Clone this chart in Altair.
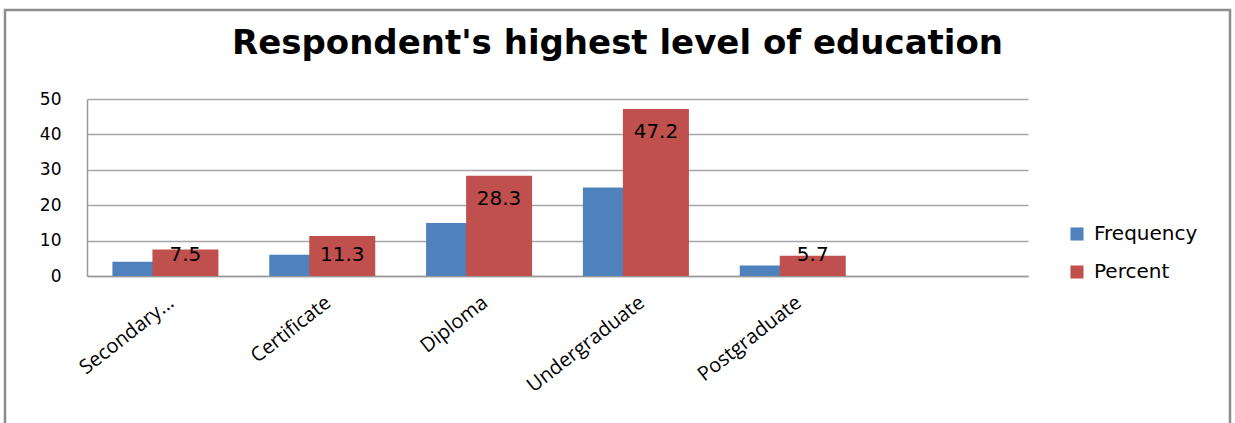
import altair as alt
import pandas as pd

categories = ["Secondary...", "Certificate", "Diploma", "Undergraduate", "Postgraduate"]
frequency = [4, 6, 15, 25, 3]
percent = [7.5, 11.3, 28.3, 47.2, 5.7]
series = ["Frequency", "Percent"]
colors = ["#4F81BD", "#C0504D"]
y_ticks = [0, 10, 20, 30, 40, 50]
x_domain = categories + [""]

rows = []
for c, f, p in zip(categories, frequency, percent):
    rows.append({"cat": c, "series": "Frequency", "value": f})
    rows.append({"cat": c, "series": "Percent", "value": p})
df = pd.DataFrame(rows)

W, H = 941, 177

x_scale = alt.Scale(domain=x_domain, paddingInner=0, paddingOuter=0)
x_axis = alt.Axis(title=None, labelAngle=-38, labelAlign="right", labelBaseline="top",
                  labelFont="Open Sans", labelFontSize=20, labelColor="#000000",
                  labelPadding=16, ticks=False, domainColor="#9a9a9a", domainWidth=1.5,
                  labelOverlap=False, labelLimit=300)
y_scale = alt.Scale(domain=[0, 50], nice=False, zero=True)
y_axis = alt.Axis(title=None, values=y_ticks, grid=True, gridColor="#a6a6a6", gridWidth=1.5,
                  ticks=False, labelPadding=26, labelFont="DejaVu Sans", labelFontSize=17,
                  labelOverlap=False, labelColor="#000000", domainColor="#9a9a9a",
                  domainWidth=1.5)
x_enc = alt.X("cat:N", scale=x_scale, axis=x_axis)
y_enc = alt.Y("value:Q", scale=y_scale, axis=y_axis)
color_enc = alt.Color("series:N", scale=alt.Scale(domain=series, range=colors),
                      legend=alt.Legend(title=None, orient="none", legendX=980, legendY=125,
                                        symbolType="square", symbolSize=170, symbolStrokeWidth=0,
                                        labelFont="DejaVu Sans", labelFontSize=20, labelColor="#000000",
                                        labelOffset=7, rowPadding=18, padding=0))

base = alt.Chart(df)

freq_bars = base.transform_filter(alt.datum.series == "Frequency").mark_bar(size=66, xOffset=-20).encode(
    x=x_enc, y=y_enc, color=color_enc)
pct_bars = base.transform_filter(alt.datum.series == "Percent").mark_bar(size=66, xOffset=20).encode(
    x=x_enc, y=y_enc, color=color_enc)
labels = base.transform_filter(alt.datum.series == "Percent").transform_calculate(
    ly="max(datum.value - 6.5, 5.8)", lbl="format(datum.value, '.1f')"
).mark_text(xOffset=20, baseline="middle", align="center", font="DejaVu Sans", fontSize=20,
            color="#000000").encode(
    x=alt.X("cat:N", scale=x_scale, axis=x_axis),
    y=alt.Y("ly:Q", scale=y_scale, axis=y_axis),
    text="lbl:N")

frame = alt.Chart(pd.DataFrame({"a": [0]})).mark_rect(
    fill=None, stroke="#8c8c8c", strokeWidth=2.5, clip=False).encode(
    x=alt.value(-82), x2=alt.value(1143), y=alt.value(-89), y2=alt.value(340))

chart = alt.layer(freq_bars, pct_bars, labels, frame).properties(
    width=W, height=H,
    autosize=alt.AutoSizeParams(type="none"),
    padding={"left": 87, "top": 99, "right": 207, "bottom": 147},
    title=alt.TitleParams("Respondent's highest level of education", font="DejaVu Sans",
                          fontSize=34, fontWeight="bold", color="#000000", anchor="middle",
                          baseline="alphabetic", dx=60, dy=79, offset=0),
).configure_view(stroke=None)

chart.save("out.html", embed_options={"renderer": "svg", "actions": False})
